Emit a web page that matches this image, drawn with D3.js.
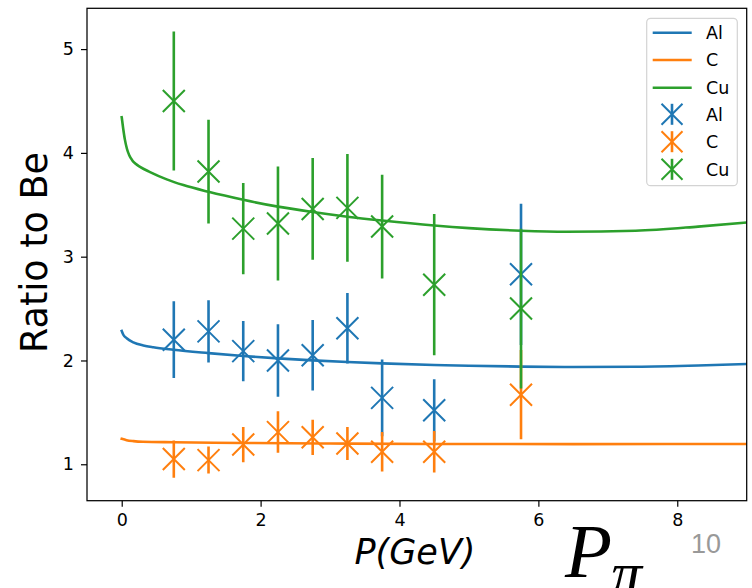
<!DOCTYPE html>
<html>
<head>
<meta charset="utf-8">
<script src="https://cdn.jsdelivr.net/npm/d3@7"></script>
<style>
  html, body { margin: 0; padding: 0; background: #fff; }
  svg { display: block; font-family: "DejaVu Sans", sans-serif; }
</style>
</head>
<body>
<svg id="chart" width="752" height="588"></svg>
<script>
// Measured momenta (GeV) and nuclear ratios to beryllium with errors
const pVals   = [0.75, 1.25, 1.75, 2.25, 2.75, 3.25, 3.75, 4.5, 5.75];
const alRatio = [2.20, 2.28, 2.09, 2.00, 2.05, 2.31, 1.64, 1.52, 2.83];
const alErr   = [0.37, 0.30, 0.29, 0.35, 0.34, 0.34, 0.37, 0.30, 0.68];
const cRatio  = [1.05, 1.04, 1.19, 1.31, 1.26, 1.20, 1.12, 1.12, 1.67];
const cErr    = [0.18, 0.13, 0.17, 0.20, 0.17, 0.16, 0.19, 0.20, 0.43];
const cuRatio = [4.50, 3.82, 3.27, 3.32, 3.46, 3.47, 3.29, 2.73, 2.50];
const cuErr   = [0.67, 0.50, 0.44, 0.55, 0.49, 0.52, 0.50, 0.68, 0.77];

// Model curves (sampled)
const alCurveP = [0, 0.023, 0.072, 0.167, 0.311, 0.455, 0.744, 1.25, 1.75, 2.25, 2.75, 3.25, 3.75, 4.5, 5.0, 5.75, 6.5, 7.4, 8.3, 9.0];
const alCurveR = [2.284, 2.248, 2.214, 2.175, 2.145, 2.127, 2.103, 2.071, 2.043, 2.020, 2.001, 1.985, 1.972, 1.957, 1.949, 1.941, 1.937, 1.940, 1.952, 1.966];
const cCurveP  = [0, 0.07, 0.17, 0.3, 0.75, 1.75, 3.0, 4.5, 6.5, 9.0];
const cCurveR  = [1.245, 1.232, 1.223, 1.217, 1.212, 1.205, 1.200, 1.196, 1.194, 1.196];
const cuCurveP = [0, 0.02, 0.045, 0.075, 0.11, 0.15, 0.2, 0.264, 0.408, 0.648, 0.888, 1.25, 1.75, 2.25, 2.75, 3.25, 3.75, 4.5, 5.0, 5.75, 6.4, 7.4, 8.3, 9.0];
const cuCurveR = [4.343, 4.24, 4.13, 4.04, 3.975, 3.93, 3.895, 3.865, 3.815, 3.745, 3.69, 3.625, 3.548, 3.482, 3.43, 3.385, 3.348, 3.30, 3.275, 3.25, 3.24, 3.25, 3.29, 3.33];

const xTicks = [0, 2, 4, 6, 8];
const yTicks = [1, 2, 3, 4, 5];
const labels = ["Al", "C", "Cu"];
const colors = ["#1f77b4", "#ff7f0e", "#2ca02c"];

const svg = d3.select("#chart");
const L = 87, R = 746.7, T = 8.3, B = 500.7;

const x = d3.scaleLinear().domain([-0.5, 9.0]).range([L, R]);
const y = d3.scaleLinear().domain([0.649, 5.393]).range([B, T]);

svg.append("defs").append("clipPath").attr("id", "plotclip")
  .append("rect").attr("x", L).attr("y", T).attr("width", R - L).attr("height", B - T);

const plot = svg.append("g").attr("clip-path", "url(#plotclip)");

// Model curves
const curves = [
  [alCurveP, alCurveR],
  [cCurveP, cCurveR],
  [cuCurveP, cuCurveR]
];
const line = d3.line().x(d => x(d[0])).y(d => y(d[1])).curve(d3.curveMonotoneX);
curves.forEach((c, i) => {
  plot.append("path")
    .datum(d3.zip(c[0], c[1]))
    .attr("d", line)
    .attr("fill", "none")
    .attr("stroke", colors[i])
    .attr("stroke-width", 2.6)
    .attr("stroke-linejoin", "round")
    .attr("stroke-linecap", "square");
});

// Data points with vertical error bars and x markers
const series = [
  [alRatio, alErr],
  [cRatio, cErr],
  [cuRatio, cuErr]
];
const ms = 11;
series.forEach((s, i) => {
  const g = plot.append("g");
  const pts = pVals.map((p, k) => ({ p, v: s[0][k], e: s[1][k] }));
  g.selectAll("line.err").data(pts).join("line")
    .attr("x1", d => x(d.p)).attr("x2", d => x(d.p))
    .attr("y1", d => y(d.v - d.e)).attr("y2", d => y(d.v + d.e))
    .attr("stroke", colors[i]).attr("stroke-width", 2.6);
  g.selectAll("path.mk").data(pts).join("path")
    .attr("d", d => {
      const cx = x(d.p), cy = y(d.v);
      return `M${cx - ms},${cy - ms}L${cx + ms},${cy + ms}M${cx - ms},${cy + ms}L${cx + ms},${cy - ms}`;
    })
    .attr("fill", "none").attr("stroke", colors[i]).attr("stroke-width", 2);
});

// Axes
const xAxis = d3.axisBottom(x).tickValues(xTicks).tickSize(6).tickPadding(7).tickFormat(d3.format("d"));
const yAxis = d3.axisLeft(y).tickValues(yTicks).tickSize(6).tickPadding(7).tickFormat(d3.format("d"));

const gx = svg.append("g").attr("transform", `translate(0,${B})`).call(xAxis);
const gy = svg.append("g").attr("transform", `translate(${L},0)`).call(yAxis);
[gx, gy].forEach(g => {
  g.select(".domain").remove();
  g.selectAll(".tick line").attr("stroke", "#000").attr("stroke-width", 1.2);
  g.selectAll(".tick text").attr("fill", "#000")
    .style("font-size", "17.5px").style("font-family", "'DejaVu Sans', sans-serif");
});

// Frame
svg.append("rect").attr("x", L).attr("y", T).attr("width", R - L).attr("height", B - T)
  .attr("fill", "none").attr("stroke", "#000").attr("stroke-width", 1.25);

// Axis titles
svg.append("text")
  .attr("transform", `translate(46.5,${(T + B) / 2 - 2}) rotate(-90)`)
  .attr("text-anchor", "middle")
  .style("font-size", "36.5px")
  .attr("fill", "#000")
  .text("Ratio to Be");

svg.append("text")
  .attr("x", 415).attr("y", 564)
  .attr("text-anchor", "middle")
  .style("font-size", "35px")
  .style("font-style", "italic")
  .attr("fill", "#000")
  .text("P(GeV)");

// Large symbol and page number near the bottom
const sym = svg.append("text")
  .attr("x", 565).attr("y", 577)
  .style("font-family", "'Liberation Serif', 'DejaVu Serif', serif")
  .style("font-style", "italic")
  .style("font-size", "77px")
  .attr("fill", "#000");
sym.append("tspan").text("P");
sym.append("tspan").attr("x", 611).attr("y", 594).style("font-size", "62px").text("π");

svg.append("text")
  .attr("x", 691).attr("y", 553)
  .style("font-family", "'Liberation Sans', Arial, sans-serif")
  .style("font-size", "27px")
  .attr("fill", "#999")
  .text("10");

// Legend
const lg = svg.append("g");
lg.append("rect")
  .attr("x", 646.7).attr("y", 18.3).attr("width", 90.6).attr("height", 167.4)
  .attr("rx", 4).attr("ry", 4)
  .attr("fill", "#fff").attr("fill-opacity", 0.8)
  .attr("stroke", "#d3d3d3").attr("stroke-width", 1.2);

const rowY = [32.7, 60.0, 87.7, 114.3, 141.7, 169.3];
labels.forEach((lab, i) => {
  const cy = rowY[i];
  lg.append("line").attr("x1", 652.7).attr("x2", 691.7).attr("y1", cy).attr("y2", cy)
    .attr("stroke", colors[i]).attr("stroke-width", 2.6);
  lg.append("text").attr("x", 706).attr("y", cy + 6.4).style("font-size", "17.5px").attr("fill", "#000").text(lab);
});
labels.forEach((lab, i) => {
  const cy = rowY[i + 3], cx = 672;
  const m = 10.5;
  lg.append("line").attr("x1", cx).attr("x2", cx).attr("y1", cy - m).attr("y2", cy + m)
    .attr("stroke", colors[i]).attr("stroke-width", 2.6);
  lg.append("path")
    .attr("d", `M${cx - m},${cy - m}L${cx + m},${cy + m}M${cx - m},${cy + m}L${cx + m},${cy - m}`)
    .attr("fill", "none").attr("stroke", colors[i]).attr("stroke-width", 2);
  lg.append("text").attr("x", 706).attr("y", cy + 6.4).style("font-size", "17.5px").attr("fill", "#000").text(lab);
});
</script>
</body>
</html>
